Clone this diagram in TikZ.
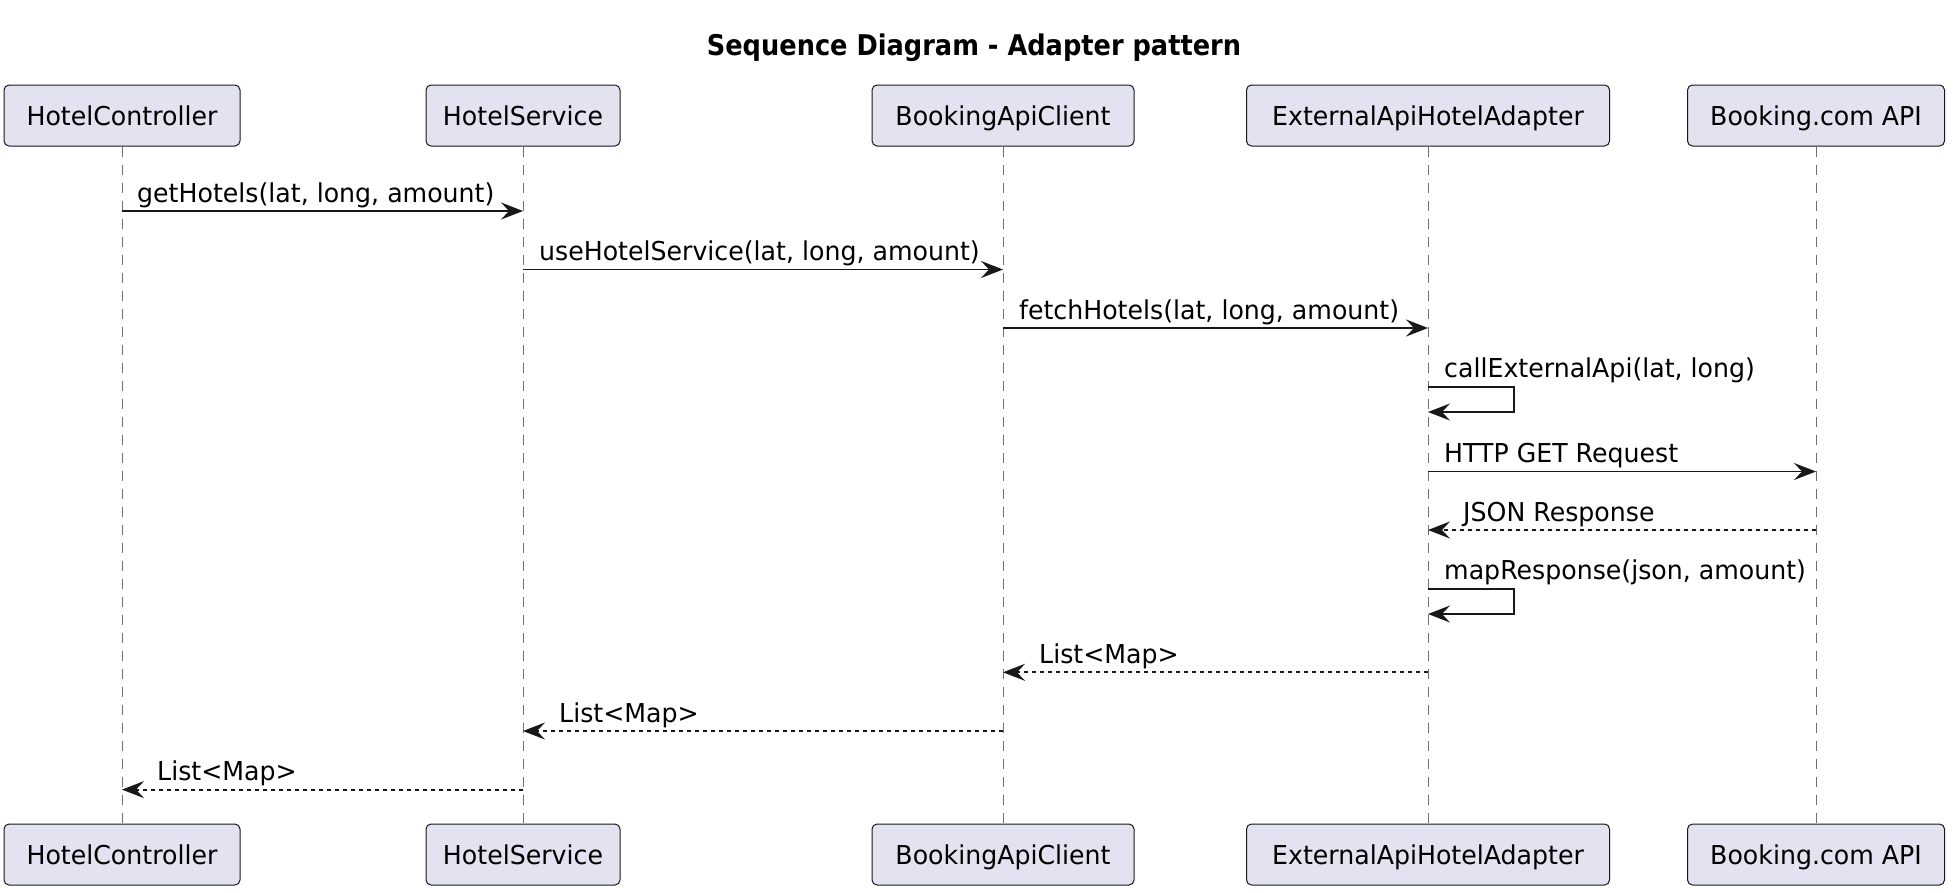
\documentclass[tikz,border=0pt]{standalone}
\usepackage{fontspec}
\setmainfont{DejaVu Sans}[FakeStretch=0.97]
\newfontfamily\titlefont[FakeStretch=0.9]{DejaVu Sans}
\usetikzlibrary{arrows.meta}
\definecolor{boxfill}{HTML}{E2E2F0}
\definecolor{ink}{HTML}{181818}
\definecolor{lifegray}{HTML}{707070}
\begin{document}
\begin{tikzpicture}[x=1pt,y=-1pt,
  participant/.style={draw=ink, line width=1pt, fill=boxfill, rounded corners=5pt,
    minimum height=61pt, inner xsep=15pt, inner ysep=0pt,
    text height=24pt, text depth=3.2pt, font=\fontsize{26}{30}\selectfont},
  msg/.style={draw=ink, line width=1.8pt, -{Stealth[length=22pt,width=17pt,inset=8pt]}},
  ret/.style={msg, dash pattern=on 4.5pt off 3.5pt},
  lifeline/.style={draw=lifegray, line width=1pt, dash pattern=on 10pt off 8pt},
  lbl/.style={anchor=base west, inner sep=0pt, font=\fontsize{26}{30}\selectfont, text=black},
  titlestyle/.style={anchor=base, inner sep=0pt, font=\titlefont\bfseries\fontsize{28.5}{32}\selectfont}
]
\useasboundingbox (0,0) rectangle (1956,892);
\fill[white] (0,0) rectangle (1956,892);

\node[titlestyle] (title) at (974,55) {Sequence Diagram - Adapter pattern};

% participants (top)
\node[participant, minimum width=236pt] (hcT) at (122,115.5) {HotelController};
\node[participant, minimum width=194pt] (hsT) at (523,115.5) {HotelService};
\node[participant, minimum width=262pt] (baT) at (1003,115.5) {BookingApiClient};
\node[participant, minimum width=363pt] (eaT) at (1428,115.5) {ExternalApiHotelAdapter};
\node[participant, minimum width=257pt] (bcT) at (1816,115.5) {Booking.com API};
% participants (bottom)
\node[participant, minimum width=236pt] (hcB) at (122,854.5) {HotelController};
\node[participant, minimum width=194pt] (hsB) at (523,854.5) {HotelService};
\node[participant, minimum width=262pt] (baB) at (1003,854.5) {BookingApiClient};
\node[participant, minimum width=363pt] (eaB) at (1428,854.5) {ExternalApiHotelAdapter};
\node[participant, minimum width=257pt] (bcB) at (1816,854.5) {Booking.com API};

% lifelines
\draw[lifeline] (hcT.south) -- (hcB.north);
\draw[lifeline] (hsT.south) -- (hsB.north);
\draw[lifeline] (baT.south) -- (baB.north);
\draw[lifeline] (eaT.south) -- (eaB.north);
\draw[lifeline] (bcT.south) -- (bcB.north);

% message points
\coordinate (m1a) at (122,211);   \coordinate (m1b) at (523,211);
\coordinate (m2a) at (523,269.5); \coordinate (m2b) at (1003,269.5);
\coordinate (m3a) at (1003,328);  \coordinate (m3b) at (1428,328);
\coordinate (m4a) at (1428,386.7); \coordinate (m4r) at (1514,386.7); \coordinate (m4b) at (1428,412);
\coordinate (m5a) at (1428,471.5); \coordinate (m5b) at (1816,471.5);
\coordinate (m6a) at (1816,530);  \coordinate (m6b) at (1428,530);
\coordinate (m7a) at (1428,588.8); \coordinate (m7r) at (1514,588.8); \coordinate (m7b) at (1428,614);
\coordinate (m8a) at (1428,672.3); \coordinate (m8b) at (1003,672.3);
\coordinate (m9a) at (1003,731);  \coordinate (m9b) at (523,731);
\coordinate (m10a) at (523,789.6); \coordinate (m10b) at (122,789.6);

% messages
\draw[msg] (m1a) -- (m1b);
\draw[msg] (m2a) -- (m2b);
\draw[msg] (m3a) -- (m3b);
\draw[msg] (m4a) -- (m4r) |- (m4b);
\draw[msg] (m5a) -- (m5b);
\draw[ret] (m6a) -- (m6b);
\draw[msg] (m7a) -- (m7r) |- (m7b);
\draw[ret] (m8a) -- (m8b);
\draw[ret] (m9a) -- (m9b);
\draw[ret] (m10a) -- (m10b);

% labels
\node[lbl] (l1) at (137,202) {getHotels(lat, long, amount)};
\node[lbl] (l2) at (539,260.5) {useHotelService(lat, long, amount)};
\node[lbl] (l3) at (1019,319) {fetchHotels(lat, long, amount)};
\node[lbl] (l4) at (1444,377.7) {callExternalApi(lat, long)};
\node[lbl] (l5) at (1444,462.5) {HTTP GET Request};
\node[lbl] (l6) at (1463,521) {JSON Response};
\node[lbl] (l7) at (1444,579.8) {mapResponse(json, amount)};
\node[lbl] (l8) at (1039,663.3) {List<Map>};
\node[lbl] (l9) at (559,722) {List<Map>};
\node[lbl] (l10) at (157,780.6) {List<Map>};
\end{tikzpicture}
\end{document}
